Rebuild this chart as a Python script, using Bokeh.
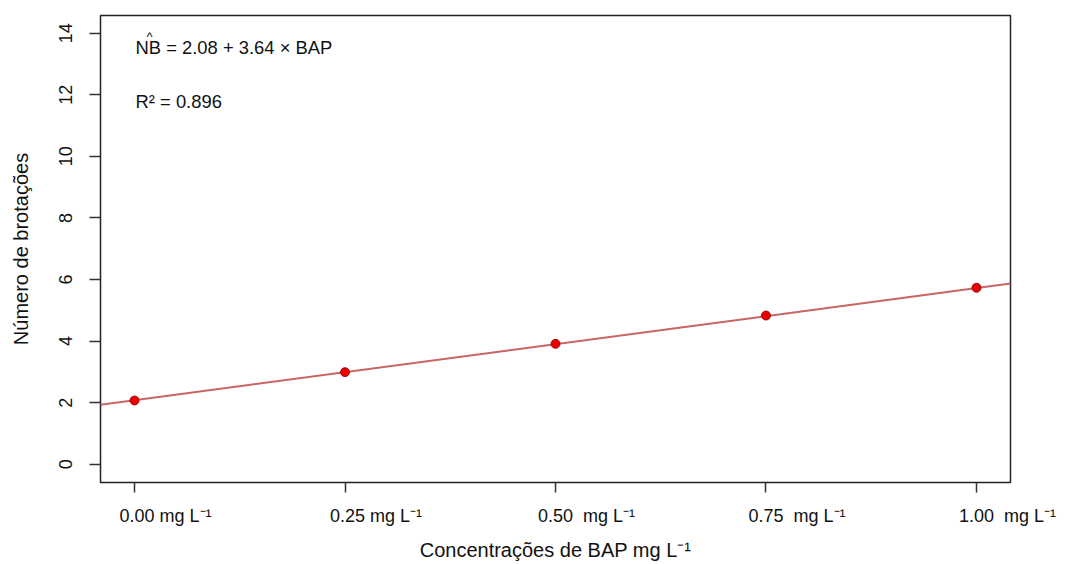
from bokeh.plotting import figure
from bokeh.models import Range1d, Label, FixedTicker
from bokeh.embed import file_html
from bokeh.resources import INLINE

# ---- data ----
bap = [0.0, 0.25, 0.50, 0.75, 1.00]
brotacoes = [2.07, 2.99, 3.91, 4.83, 5.73]
intercept = 2.08
slope = 3.64
r2 = 0.896
x_tick_values = [0.0, 0.25, 0.50, 0.75, 1.00]
x_tick_labels = ["0.00 mg L\u207b\u00b9", "0.25 mg L\u207b\u00b9", "0.50\u00a0 mg L\u207b\u00b9",
                 "0.75\u00a0 mg L\u207b\u00b9", "1.00\u00a0 mg L\u207b\u00b9"]
y_ticks = [0, 2, 4, 6, 8, 10, 12, 14]
x_title = "Concentra\u00e7\u00f5es de BAP mg L\u207b\u00b9"
y_title = "N\u00famero de brota\u00e7\u00f5es"

FONT = "Liberation Sans"
TXT = "#111111"

x0, x1 = -0.0404, 1.0404
p = figure(width=1068, height=564, x_range=Range1d(x0, x1), y_range=Range1d(-0.594, 14.575),
           output_backend="svg", toolbar_location=None,
           min_border_left=100, min_border_right=58, min_border_top=15, min_border_bottom=82)

p.background_fill_color = "white"
p.border_fill_color = "white"
p.outline_line_color = "#222222"
p.outline_line_width = 1.5
p.grid.visible = False

# y axis
p.yaxis.ticker = FixedTicker(ticks=y_ticks)
p.yaxis.axis_line_color = None
p.yaxis.major_tick_out = 11
p.yaxis.major_tick_in = 0
p.yaxis.minor_tick_line_color = None
p.yaxis.major_tick_line_color = "#333333"
p.yaxis.major_tick_line_width = 1.5
p.yaxis.major_label_orientation = "vertical"
p.yaxis.major_label_text_font = FONT
p.yaxis.major_label_text_font_size = "18px"
p.yaxis.major_label_text_color = TXT
p.yaxis.major_label_standoff = 17
p.yaxis.axis_label = y_title
p.yaxis.axis_label_text_font = FONT
p.yaxis.axis_label_text_font_size = "20px"
p.yaxis.axis_label_text_font_style = "normal"
p.yaxis.axis_label_text_color = TXT
p.yaxis.axis_label_standoff = 25

# x axis: tick marks at the real values (drawn as minor ticks), labels shifted
# to the right of each tick as in the original figure
label_shift = 31 / 842.0  # ~31 px in data units
shifted = [v + label_shift for v in x_tick_values]
p.xaxis.ticker = FixedTicker(ticks=shifted, minor_ticks=x_tick_values)
p.xaxis.major_label_overrides = {s: t for s, t in zip(shifted, x_tick_labels)}
p.xaxis.axis_line_color = None
p.xaxis.major_tick_line_color = None
p.xaxis.major_tick_out = 0
p.xaxis.major_tick_in = 0
p.xaxis.minor_tick_out = 10
p.xaxis.minor_tick_in = 0
p.xaxis.minor_tick_line_color = "#333333"
p.xaxis.minor_tick_line_width = 1.5
p.xaxis.major_label_text_font = FONT
p.xaxis.major_label_text_font_size = "18px"
p.xaxis.major_label_text_color = TXT
p.xaxis.major_label_standoff = 13
p.xaxis.axis_label = x_title
p.xaxis.axis_label_text_font = FONT
p.xaxis.axis_label_text_font_size = "20px"
p.xaxis.axis_label_text_font_style = "normal"
p.xaxis.axis_label_text_color = TXT
p.xaxis.axis_label_standoff = 10

# regression line
p.line([x0, x1], [intercept + slope * x0, intercept + slope * x1], line_color="#c86464", line_width=2)
# points
p.scatter(bap, brotacoes, size=9, fill_color="#ee0000", line_color="#800000", line_width=0.8)

# equation texts
p.add_layout(Label(x=0, y=13.33, x_offset=1, y_offset=6, text=f"NB = {intercept:.2f} + {slope:.2f} \u00d7 BAP",
                   text_align="left", text_baseline="alphabetic", text_font=FONT,
                   text_font_size="18.4px", text_color=TXT))
p.add_layout(Label(x=0, y=13.70, x_offset=15, y_offset=6, text="^", text_align="center",
                   text_baseline="alphabetic", text_font=FONT, text_font_size="13px",
                   text_color=TXT))
p.add_layout(Label(x=0, y=11.55, x_offset=1, y_offset=7, text=f"R\u00b2 = {r2:.3f}",
                   text_align="left", text_baseline="alphabetic", text_font=FONT,
                   text_font_size="18.4px", text_color=TXT))

open("out.html", "w").write(file_html(p, INLINE))
